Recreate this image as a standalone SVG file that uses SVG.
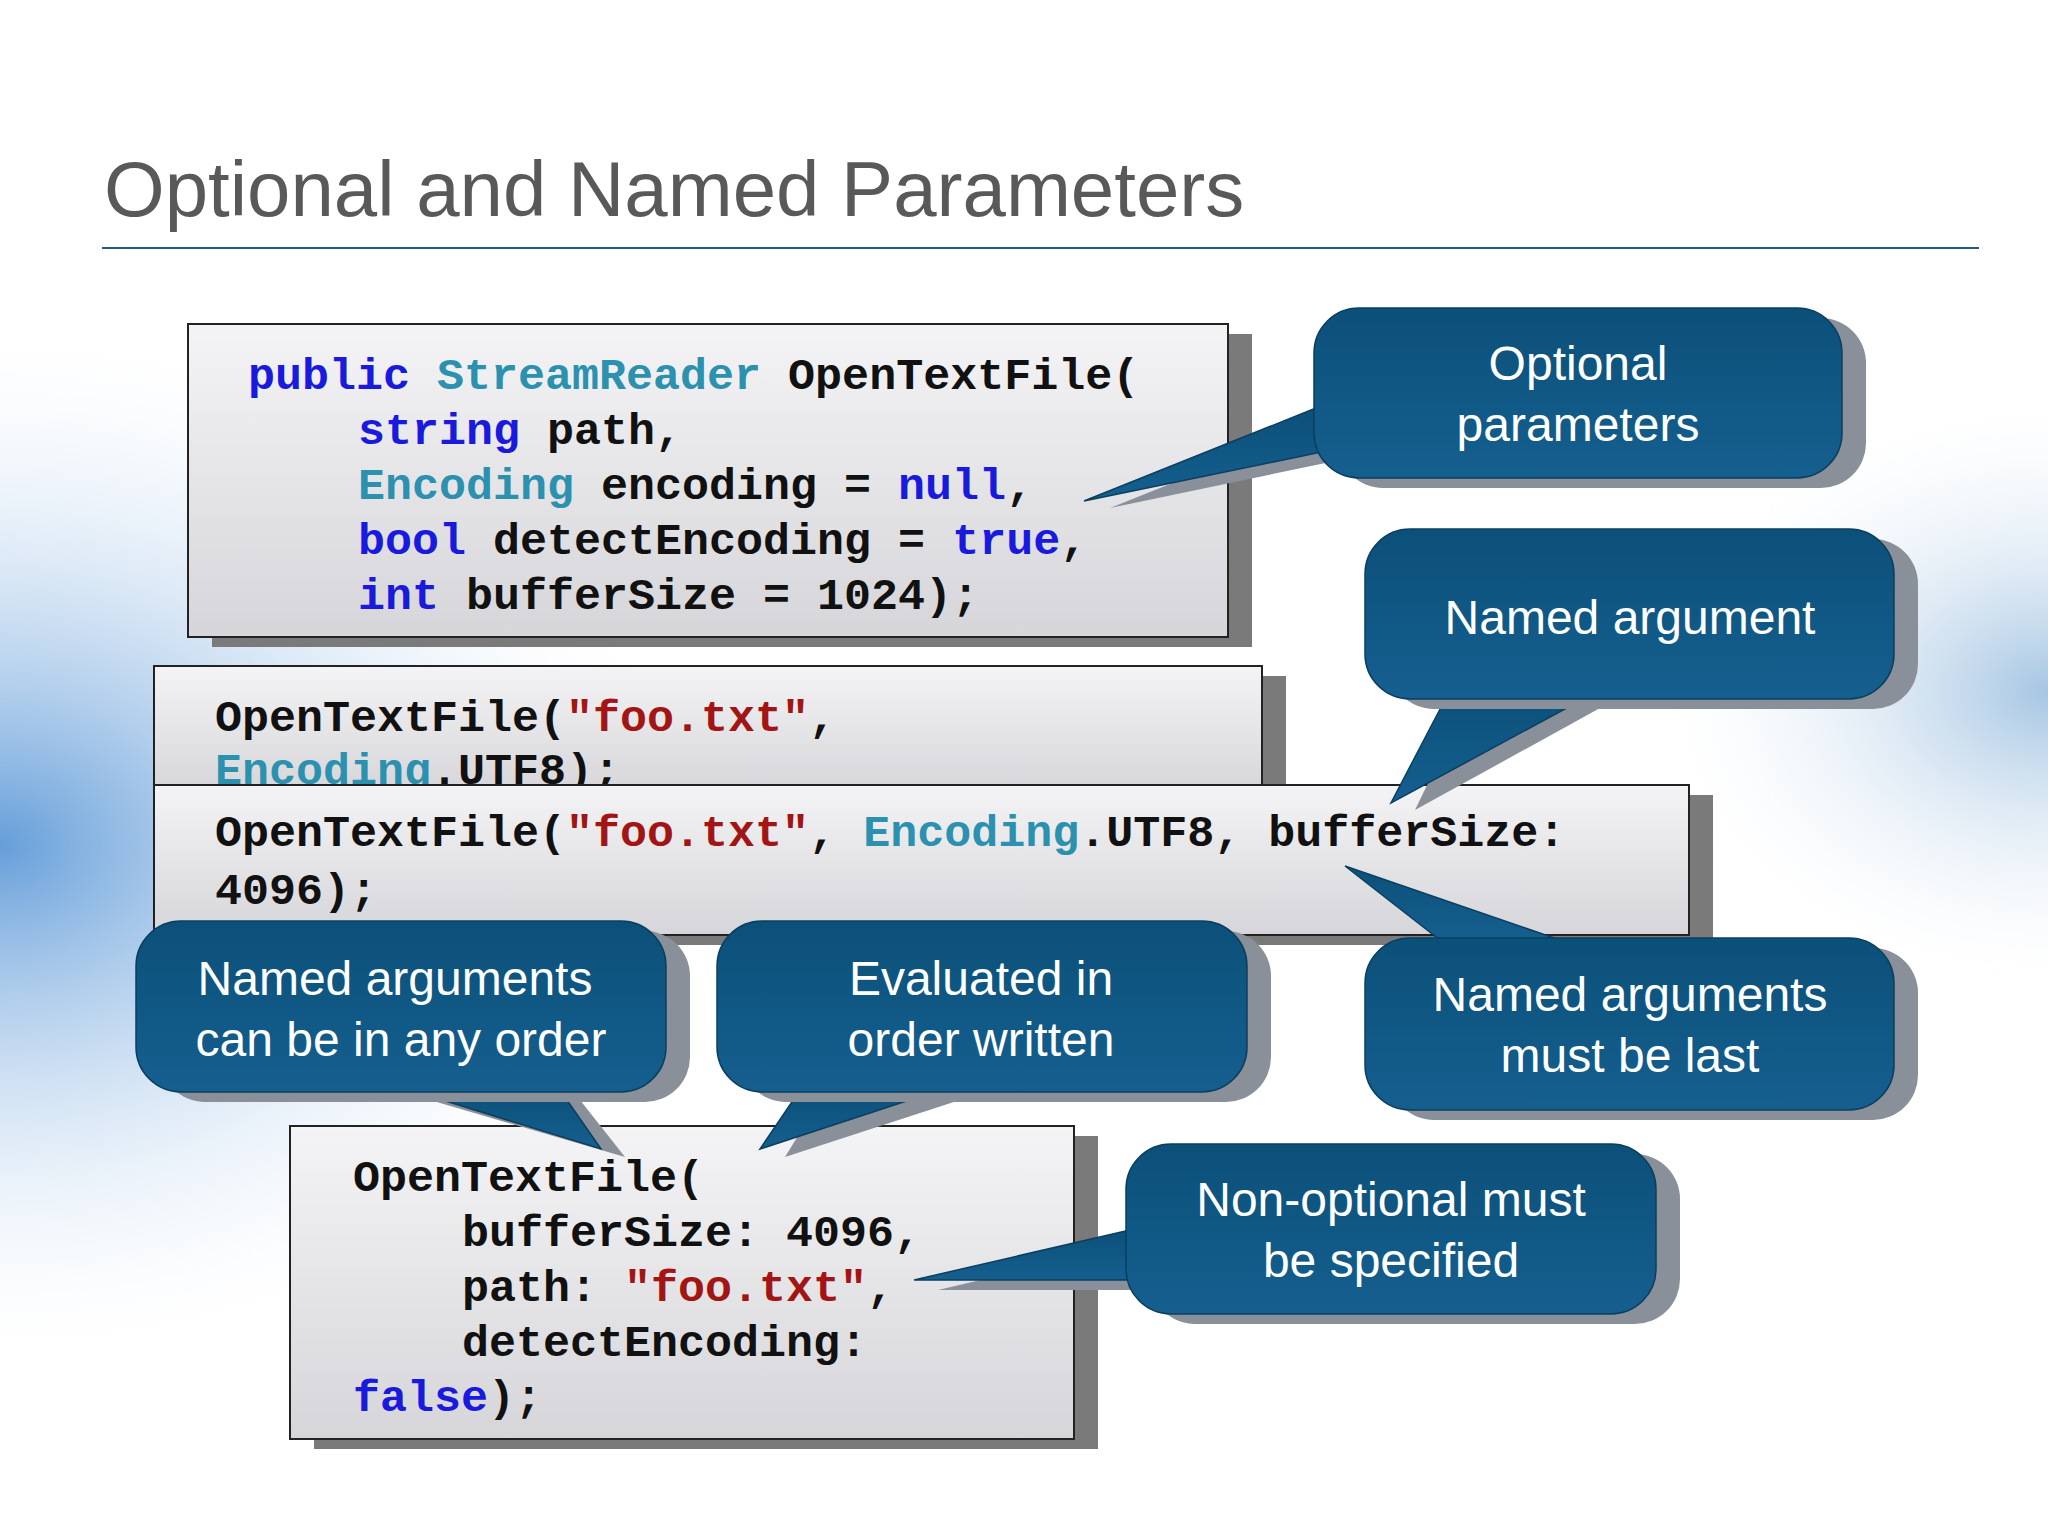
<svg xmlns="http://www.w3.org/2000/svg" width="2048" height="1536" viewBox="0 0 2048 1536">
<defs>
<linearGradient id="box" x1="0" y1="0" x2="0" y2="1"><stop offset="0" stop-color="#f4f4f6"/><stop offset="1" stop-color="#d6d6da"/></linearGradient>
<linearGradient id="call" x1="0" y1="0" x2="0" y2="1"><stop offset="0" stop-color="#0b5079"/><stop offset="1" stop-color="#155f8f"/></linearGradient>
<radialGradient id="bgL" cx="0" cy="0.55" r="0.35"><stop offset="0" stop-color="#3f86d0" stop-opacity="0.8"/><stop offset="1" stop-color="#ffffff" stop-opacity="0"/></radialGradient>
<radialGradient id="bgR" cx="1" cy="0.45" r="0.2"><stop offset="0" stop-color="#6a9fd0" stop-opacity="0.6"/><stop offset="1" stop-color="#ffffff" stop-opacity="0"/></radialGradient>
<style>
.code{font-family:"Liberation Mono","DejaVu Sans Mono",monospace;font-size:45px;font-weight:bold;fill:#111}
.kw{fill:#1a1add}.ty{fill:#2b91af}.st{fill:#a31515}
.ct{font-family:"Liberation Sans",Arial,sans-serif;font-size:48px;fill:#fff;text-anchor:middle}
.bx{fill:url(#box);stroke:#222;stroke-width:2}
.sh{fill:#7a7a7a}
.cs{fill:#8a9099}
.cf{fill:url(#call);stroke:#0a3f60;stroke-width:1.5}
</style>
</defs>
<rect width="2048" height="1536" fill="#fff"/>
<rect width="2048" height="1536" fill="url(#bgL)"/>
<rect width="2048" height="1536" fill="url(#bgR)"/>
<text x="104" y="216" font-family="Liberation Sans,Arial,sans-serif" font-size="78" fill="#595959">Optional and Named Parameters</text>
<line x1="102" y1="248" x2="1979" y2="248" stroke="#1f5a8a" stroke-width="2"/>

<g id="code1">
<rect class="sh" x="212" y="334" width="1040" height="313"/>
<rect class="bx" x="188" y="324" width="1040" height="313"/>
<text class="code" x="248" y="389"><tspan class="kw">public</tspan> <tspan class="ty">StreamReader</tspan> OpenTextFile(</text>
<text class="code" x="358" y="444"><tspan class="kw">string</tspan> path,</text>
<text class="code" x="358" y="499"><tspan class="ty">Encoding</tspan> encoding = <tspan class="kw">null</tspan>,</text>
<text class="code" x="358" y="554"><tspan class="kw">bool</tspan> detectEncoding = <tspan class="kw">true</tspan>,</text>
<text class="code" x="358" y="609"><tspan class="kw">int</tspan> bufferSize = 1024);</text>
</g>
<g id="code2">
<rect class="sh" x="178" y="676" width="1108" height="118"/>
<rect class="bx" x="154" y="666" width="1108" height="128"/>
<text class="code" x="215" y="731">OpenTextFile(<tspan class="st">"foo.txt"</tspan>,</text>
<text class="code" x="215" y="784"><tspan class="ty">Encoding</tspan>.UTF8);</text>
</g>
<g id="code3">
<rect class="sh" x="178" y="795" width="1535" height="150"/>
<rect class="bx" x="154" y="785" width="1535" height="150"/>
<text class="code" x="215" y="846">OpenTextFile(<tspan class="st">"foo.txt"</tspan>, <tspan class="ty">Encoding</tspan>.UTF8, bufferSize:</text>
<text class="code" x="215" y="904">4096);</text>
</g>
<g id="code4">
<rect class="sh" x="314" y="1136" width="784" height="313"/>
<rect class="bx" x="290" y="1126" width="784" height="313"/>
<text class="code" x="353" y="1191">OpenTextFile(</text>
<text class="code" x="462" y="1246">bufferSize: 4096,</text>
<text class="code" x="462" y="1301">path: <tspan class="st">"foo.txt"</tspan>,</text>
<text class="code" x="462" y="1356">detectEncoding:</text>
<text class="code" x="353" y="1411"><tspan class="kw">false</tspan>);</text>
</g>

<g id="connectors">
<polygon class="cs" points="1330,420 1110,508 1340,460"/>
<polygon class="cf" points="1316,408 1084,501 1322,452"/>
<polygon class="cs" points="1470,697 1415,810 1620,697"/>
<polygon class="cf" points="1450,690 1391,803 1600,690"/>
<polygon class="cs" points="1575,945 1370,875 1460,945"/>
<polygon class="cf" points="1560,940 1345,866 1440,940"/>
<polygon class="cs" points="430,1100 625,1157 580,1100"/>
<polygon class="cf" points="410,1090 601,1149 560,1090"/>
<polygon class="cs" points="820,1100 785,1157 960,1100"/>
<polygon class="cf" points="800,1090 760,1149 940,1090"/>
<polygon class="cs" points="1150,1240 938,1290 1150,1290"/>
<polygon class="cf" points="1130,1230 914,1280 1130,1280"/>
</g>

<g id="c1"><rect class="cs" x="1338" y="318" width="528" height="170" rx="45"/><rect class="cf" x="1314" y="308" width="528" height="170" rx="45"/>
<text class="ct" x="1578" y="380">Optional</text><text class="ct" x="1578" y="441">parameters</text></g>
<g id="c2"><rect class="cs" x="1389" y="539" width="529" height="170" rx="45"/><rect class="cf" x="1365" y="529" width="529" height="170" rx="45"/>
<text class="ct" x="1630" y="634">Named argument</text></g>
<g id="c3"><rect class="cs" x="1389" y="948" width="529" height="172" rx="45"/><rect class="cf" x="1365" y="938" width="529" height="172" rx="45"/>
<text class="ct" x="1630" y="1011">Named arguments</text><text class="ct" x="1630" y="1072">must be last</text></g>
<g id="c4"><rect class="cs" x="160" y="931" width="530" height="171" rx="45"/><rect class="cf" x="136" y="921" width="530" height="171" rx="45"/>
<text class="ct" x="395" y="995">Named arguments</text><text class="ct" x="401" y="1056">can be in any order</text></g>
<g id="c5"><rect class="cs" x="741" y="931" width="530" height="171" rx="45"/><rect class="cf" x="717" y="921" width="530" height="171" rx="45"/>
<text class="ct" x="981" y="995">Evaluated in</text><text class="ct" x="981" y="1056">order written</text></g>
<g id="c6"><rect class="cs" x="1150" y="1154" width="530" height="170" rx="45"/><rect class="cf" x="1126" y="1144" width="530" height="170" rx="45"/>
<text class="ct" x="1391" y="1216">Non-optional must</text><text class="ct" x="1391" y="1277">be specified</text></g>
</svg>
